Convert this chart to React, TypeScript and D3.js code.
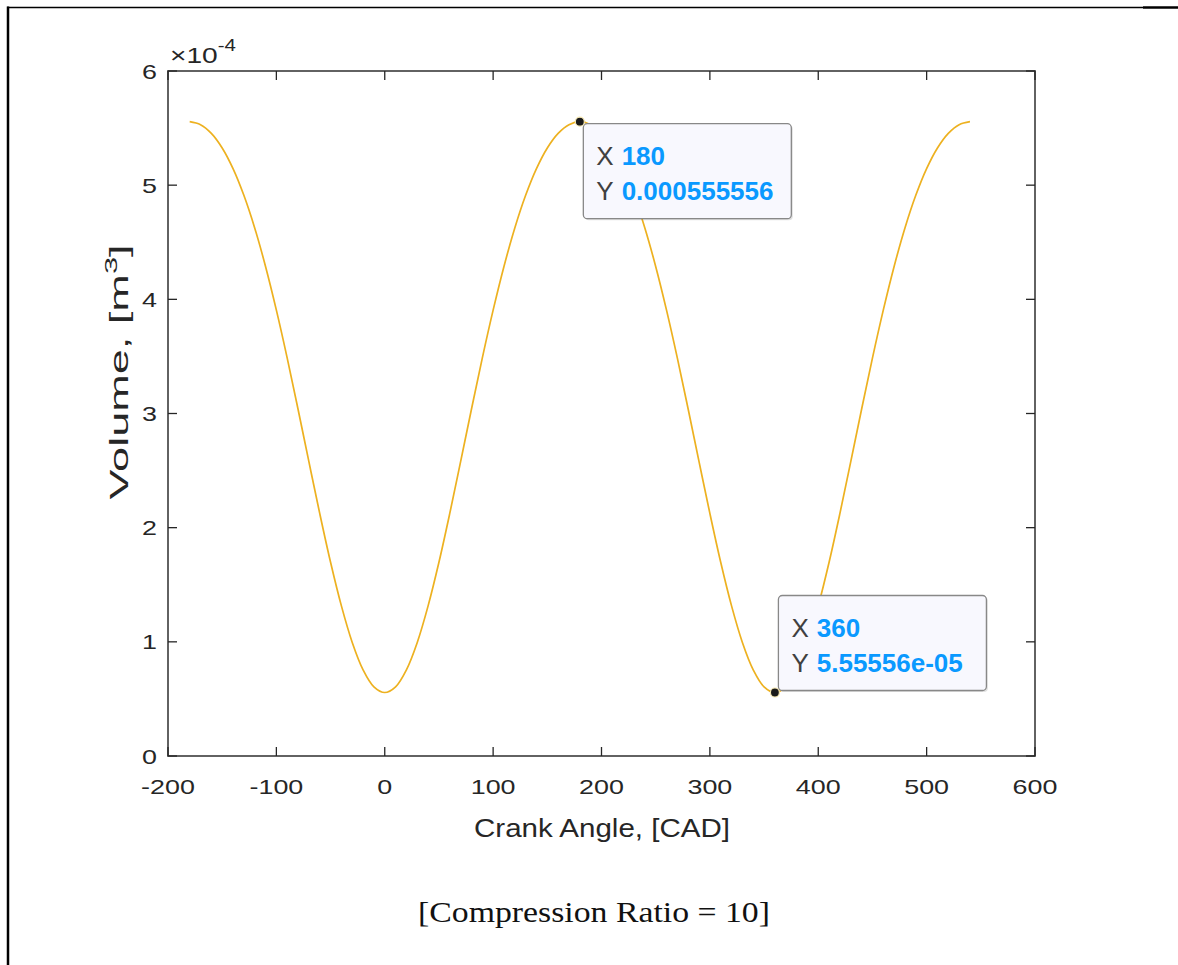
import React, { useEffect, useRef } from 'react';
import * as d3 from 'd3';

// crank angle in degrees, volume in units of 1e-4 m^3
const crankAngle = [
  -180, -170, -160, -150, -140, -130, -120, -110, -100, -90, -80, -70, -60, -50, -40, -30, -20, -10,
  0, 10, 20, 30, 40, 50, 60, 70, 80, 90, 100, 110, 120, 130, 140, 150, 160, 170,
  180, 190, 200, 210, 220, 230, 240, 250, 260, 270, 280, 290, 300, 310, 320, 330, 340, 350,
  360, 370, 380, 390, 400, 410, 420, 430, 440, 450, 460, 470, 480, 490, 500, 510, 520, 530, 540,
];
const volume = [
  5.556, 5.53, 5.454, 5.326, 5.145, 4.911, 4.625, 4.288, 3.905, 3.485, 3.037, 2.578, 2.125, 1.697, 1.315, 0.995, 0.755, 0.606,
  0.556, 0.606, 0.755, 0.995, 1.315, 1.697, 2.125, 2.578, 3.037, 3.485, 3.905, 4.288, 4.625, 4.911, 5.145, 5.326, 5.454, 5.53,
  5.556, 5.53, 5.454, 5.326, 5.145, 4.911, 4.625, 4.288, 3.905, 3.485, 3.037, 2.578, 2.125, 1.697, 1.315, 0.995, 0.755, 0.606,
  0.556, 0.606, 0.755, 0.995, 1.315, 1.697, 2.125, 2.578, 3.037, 3.485, 3.905, 4.288, 4.625, 4.911, 5.145, 5.326, 5.454, 5.53, 5.556,
];
const xTicks = [-200, -100, 0, 100, 200, 300, 400, 500, 600];
const yTicks = [0, 1, 2, 3, 4, 5, 6];

// data tips
const tipX = [180, 360];
const tipY = [5.556, 0.556];
const tipYLabel = ['0.000555556', '5.55556e-05'];
const tipPlace = ['below', 'above'];

const W = 1178;
const H = 965;
const box = { left: 168, right: 1035, top: 71, bottom: 756 };
const axisColor = '#262626';
const font = '"Liberation Sans", Arial, Helvetica, sans-serif';
const stretch = 1.28; // tick text in the figure is drawn wide

export default function App() {
  const ref = useRef<SVGSVGElement>(null);

  useEffect(() => {
    const svg = d3.select(ref.current);
    svg.selectAll('*').remove();

    svg.append('rect').attr('width', W).attr('height', H).attr('fill', '#fff');

    // page frame
    svg.append('line').attr('x1', 7).attr('x2', 1143).attr('y1', 7.5).attr('y2', 7.5)
      .attr('stroke', '#000').attr('stroke-width', 1.5);
    svg.append('line').attr('x1', 1143).attr('x2', W).attr('y1', 7.5).attr('y2', 7.5)
      .attr('stroke', '#000').attr('stroke-width', 2.5);
    svg.append('line').attr('x1', 8).attr('x2', 8).attr('y1', 6.5).attr('y2', H)
      .attr('stroke', '#000').attr('stroke-width', 2.5);

    const x = d3.scaleLinear().domain([-200, 600]).range([box.left, box.right]);
    const y = d3.scaleLinear().domain([0, 6]).range([box.bottom, box.top]);

    const g = svg.append('g');

    // curve
    const pts = crankAngle.map((a, i) => [a, volume[i]] as [number, number]);
    const line = d3.line<[number, number]>()
      .x(d => x(d[0]))
      .y(d => y(d[1]))
      .curve(d3.curveCatmullRom);
    g.append('path').datum(pts)
      .attr('fill', 'none').attr('stroke', '#EDB120').attr('stroke-width', 1.7)
      .attr('d', line);

    // axes box
    g.append('rect')
      .attr('x', box.left).attr('y', box.top)
      .attr('width', box.right - box.left).attr('height', box.bottom - box.top)
      .attr('fill', 'none').attr('stroke', axisColor).attr('stroke-width', 1.8).attr('opacity', 0.8);

    const tl = 9;
    xTicks.forEach(t => {
      const px = x(t);
      g.append('line').attr('x1', px).attr('x2', px).attr('y1', box.bottom).attr('y2', box.bottom - tl)
        .attr('stroke', axisColor).attr('stroke-width', 1.3);
      g.append('line').attr('x1', px).attr('x2', px).attr('y1', box.top).attr('y2', box.top + tl)
        .attr('stroke', axisColor).attr('stroke-width', 1.3);
      g.append('text').attr('transform', `translate(${px},794) scale(${stretch},1)`)
        .attr('text-anchor', 'middle').attr('font-family', font).attr('font-size', 21)
        .attr('fill', axisColor).text(t);
    });
    yTicks.forEach(t => {
      const py = y(t);
      g.append('line').attr('x1', box.left).attr('x2', box.left + tl).attr('y1', py).attr('y2', py)
        .attr('stroke', axisColor).attr('stroke-width', 1.3);
      g.append('line').attr('x1', box.right).attr('x2', box.right - tl).attr('y1', py).attr('y2', py)
        .attr('stroke', axisColor).attr('stroke-width', 1.3);
      g.append('text').attr('transform', `translate(157,${py + 7.5}) scale(${stretch},1)`)
        .attr('text-anchor', 'end').attr('font-family', font).attr('font-size', 21)
        .attr('fill', axisColor).text(t);
    });

    // exponent
    const ex = g.append('text').attr('transform', `translate(170,63) scale(${stretch},1)`)
      .attr('font-family', font).attr('font-size', 22).attr('fill', axisColor);
    ex.append('tspan').text('\u00d710');
    ex.append('tspan').attr('dy', -12).attr('font-size', 16).text('-4');

    // axis labels
    g.append('text').attr('x', 602).attr('y', 837)
      .attr('text-anchor', 'middle').attr('font-family', font).attr('font-size', 25)
      .attr('textLength', 256).attr('lengthAdjust', 'spacingAndGlyphs')
      .attr('fill', axisColor).text('Crank Angle, [CAD]');

    const yl = g.append('text')
      .attr('transform', `translate(128,372) rotate(-90)`)
      .attr('text-anchor', 'middle').attr('font-family', font).attr('font-size', 25)
      .attr('textLength', 255).attr('lengthAdjust', 'spacingAndGlyphs')
      .attr('fill', axisColor);
    yl.append('tspan').text('Volume, [m');
    yl.append('tspan').attr('dy', -11).attr('font-size', 17).text('3');
    yl.append('tspan').attr('dy', 11).text(']');

    // data tips
    tipX.forEach((tx, i) => {
      const px = x(tx);
      const py = y(tipY[i]);
      const bw = 208;
      const bh = 95;
      const bx = px + 3.5;
      const by = tipPlace[i] === 'below' ? py + 2 : py - 2 - bh;
      g.append('rect').attr('x', bx + 1.5).attr('y', by + 1.5).attr('width', bw).attr('height', bh)
        .attr('rx', 4).attr('fill', '#000').attr('opacity', 0.12);
      g.append('rect').attr('x', bx).attr('y', by).attr('width', bw).attr('height', bh)
        .attr('rx', 4).attr('fill', '#f8f8fe').attr('stroke', '#888').attr('stroke-width', 1.3);
      const rows = [['X', String(tx)], ['Y', tipYLabel[i]]];
      rows.forEach((r, j) => {
        const t = g.append('text').attr('x', bx + 13).attr('y', by + 41 + j * 35)
          .attr('font-family', font).attr('font-size', 26);
        t.append('tspan').attr('fill', '#404040').text(r[0]);
        t.append('tspan').attr('dx', 8).attr('fill', '#0a99ff').attr('font-weight', 'bold').text(r[1]);
      });
      g.append('circle').attr('cx', px).attr('cy', py).attr('r', 4.5)
        .attr('fill', '#1a1a1a').attr('stroke', '#f4e6b0').attr('stroke-width', 1.2);
    });

    // caption
    svg.append('text').attr('x', 594).attr('y', 922)
      .attr('text-anchor', 'middle').attr('font-family', '"Liberation Serif", "DejaVu Serif", serif')
      .attr('font-size', 29).attr('textLength', 352).attr('lengthAdjust', 'spacingAndGlyphs')
      .attr('fill', '#111').text('[Compression Ratio = 10]');
  }, []);

  return (
    <svg
      ref={ref}
      width={W}
      height={H}
      style={{ position: 'absolute', left: 0, top: 0, display: 'block' }}
    />
  );
}
